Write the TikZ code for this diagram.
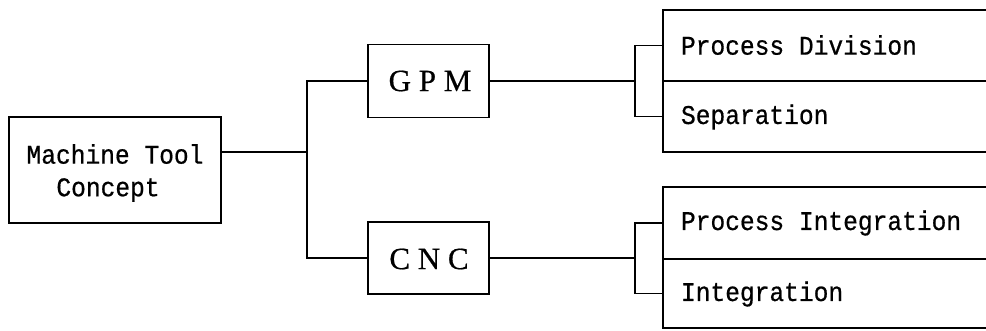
\documentclass[tikz,border=0pt]{standalone}
\usepackage{fontspec}
\newfontfamily\monofnt[FakeStretch=0.91,FakeBold=0.6]{Liberation Mono}
\newfontfamily\seriffnt[FakeBold=0.6]{Liberation Serif}
\begin{document}
\begin{tikzpicture}[x=1pt,y=-1pt,
  every node/.style={inner sep=0pt, outer sep=0pt},
  box/.style={draw, line width=1.6pt, rectangle},
  mtext/.style={font=\monofnt\fontsize{27}{36}\selectfont},
  btext/.style={font=\seriffnt\fontsize{31}{36}\selectfont},
  sub/.style={box, anchor=north west, minimum width=360pt},
  subtext/.style={mtext, anchor=west},
  conn/.style={line width=1.5pt}
]
\useasboundingbox (0,0) rectangle (986,330);
\clip (0,0) rectangle (986,330);
% Machine tool concept
\node[box, minimum width=212pt, minimum height=106pt] (mtc) at (115,170) {};
\node[mtext] (mtc1) at (115,154) {Machine Tool};
\node[mtext] (mtc2) at (108,190) {Concept};
% GPM / CNC
\node[box, minimum width=121pt, minimum height=73pt] (gpm) at (428.5,81) {};
\node[btext] (gpmt) at (430,81) {G P M};
\node[box, minimum width=121pt, minimum height=72pt] (cnc) at (428.5,258) {};
\node[btext] (cnct) at (429,259) {C N C};
% sub boxes
\node[sub, minimum height=71pt] (pd) at (663,10) {};
\node[sub, minimum height=71pt] (sep) at (663,81) {};
\node[sub, minimum height=72pt] (pi) at (663,187) {};
\node[sub, minimum height=69pt] (int) at (663,259) {};
\node[subtext] (pdt) at (681,45) {Process Division};
\node[subtext] (sept) at (681,117) {Separation};
\node[subtext] (pit) at (681,223) {Process Integration};
\node[subtext] (intt) at (681,294) {Integration};
% connectors
\coordinate (bus) at (307,152);
\coordinate (b1) at (635,81);
\coordinate (b2) at (635,258);
\draw[conn] (bus -| mtc.east) -- (bus);
\draw[conn] (gpm.west) -| (bus) |- (cnc.west);
\draw[conn] (gpm.east) -- (b1);
\draw[conn] (pd.west) -| (b1) |- (sep.west);
\draw[conn] (cnc.east) -- (b2);
\draw[conn] (pi.west) -| (b2) |- (int.west);
\end{tikzpicture}
\end{document}
